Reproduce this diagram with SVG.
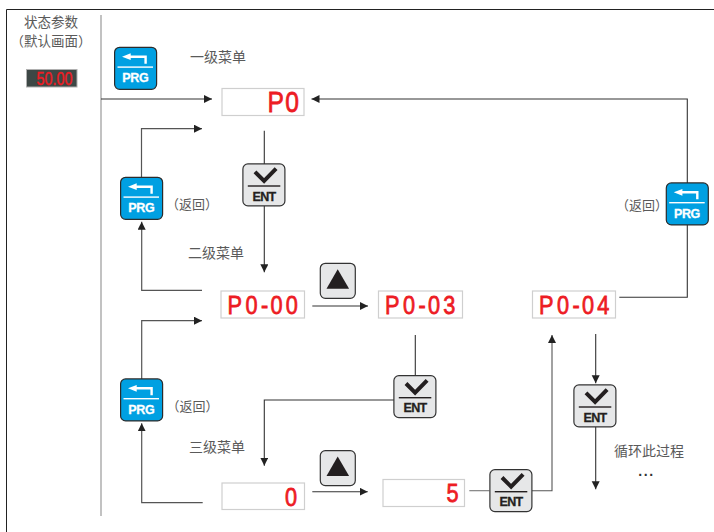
<svg xmlns="http://www.w3.org/2000/svg" width="714" height="532" viewBox="0 0 714 532">
<style>
.lbl{font-family:"Noto Sans CJK SC","Noto Sans",sans-serif;font-size:14px;fill:#5a5a5a}
.top{font-size:13.5px;text-anchor:middle}
.ret{font-size:13px}
.disp{fill:#fff;stroke:#cfcfcf;stroke-width:1.2}
.seg{font-family:"Liberation Sans",Arial,sans-serif;fill:#ed1c24;stroke:#ed1c24;stroke-width:.8;font-size:26.5px}
.con{fill:none;stroke:#333;stroke-width:1.1}
.ret-line{fill:none;stroke:#555;stroke-width:1.2}
.btn-p{fill:#00a0e2;stroke:#2b2b2b;stroke-width:1.2}
.btn-e{fill:#e6e7e8;stroke:#333;stroke-width:1.2}
.cap-p{font-family:"Liberation Sans",Arial,sans-serif;font-weight:bold;font-size:12.5px;fill:#fff;stroke:#fff;stroke-width:.3;text-anchor:middle;letter-spacing:-.4px}
.cap-e{font-family:"Liberation Sans",Arial,sans-serif;font-weight:bold;font-size:12.5px;fill:#231f20;stroke:#231f20;stroke-width:.3;text-anchor:middle;letter-spacing:-.6px}
</style>
<defs>
<marker id="ah" markerUnits="userSpaceOnUse" markerWidth="9" markerHeight="9" refX="8" refY="4" orient="auto"><path d="M0 0L8 4L0 8z" fill="#222"/></marker>
<g id="prg-face">
<rect class="btn-p" x=".6" y=".6" width="42" height="42" rx="5"/>
<path d="M8 10L16.7 6.6V8.8H32.8V17H30.4V11.2H16.7V13.4z" fill="#fff"/>
<rect x="3.5" y="19.7" width="35.5" height="1.4" fill="#fff"/>
</g>
<g id="ent-face">
<rect class="btn-e" x=".6" y=".6" width="42" height="42" rx="5"/>
<path d="M12.7 8.5L21.8 17.6L33.8 5.3" fill="none" stroke="#231f20" stroke-width="4"/>
<rect x="5.5" y="22" width="32.5" height="1.4" fill="#231f20"/>
</g>
<g id="up-face">
<rect class="btn-e" x=".6" y=".6" width="35" height="35" rx="5"/>
<path d="M18 6.6L29.4 26H6.8z" fill="#231f20"/>
</g>
</defs>

<g id="frame">
<path d="M6.5 532V9.5H714" fill="none" stroke="#222" stroke-width="1"/>
<path d="M101 15V516" fill="none" stroke="#bcbcbc" stroke-width="1.8"/>
</g>

<g id="connectors">
<path class="con" marker-end="url(#ah)" d="M101 99H212"/>
<path class="ret-line" marker-end="url(#ah)" d="M141.5 177V128.7H202"/>
<path class="con" d="M264.3 130.7V164"/>
<path class="con" marker-end="url(#ah)" d="M264.3 206V272.3"/>
<path class="ret-line" marker-end="url(#ah)" d="M202 290.3H141.7V221.7"/>
<path class="ret-line" marker-end="url(#ah)" d="M141.7 379V320.7H202"/>
<path class="con" marker-end="url(#ah)" d="M312.3 306H368"/>
<path class="con" d="M415.3 335V375"/>
<path class="con" marker-end="url(#ah)" d="M394 400H264.3V465.7"/>
<path class="con" marker-end="url(#ah)" d="M312.3 491.7H367.7"/>
<path class="ret-line" marker-end="url(#ah)" d="M202.7 502.7H141.7V423.3"/>
<path class="con" style="stroke:#777" d="M469.3 490.7H489.5"/>
<path class="con" style="stroke:#555" marker-end="url(#ah)" d="M532 490.7H552V335"/>
<path class="con" marker-end="url(#ah)" d="M619.3 297.3H687.3V99H311.5"/>
<path class="con" marker-end="url(#ah)" d="M595.7 334V383.3"/>
<path class="con" marker-end="url(#ah)" d="M595.7 427V489.3"/>
</g>

<g id="status"><text class="lbl top" x="51" y="26.6">状态参数</text><text class="lbl top" x="51" y="46.2">（默认画面）</text></g>
<g id="status-display"><rect x="26.5" y="69.5" width="50.5" height="17.5" fill="#3d4745" stroke="#b0b0b0"/><text x="36.5" y="85" font-family="Liberation Sans,sans-serif" font-size="18" fill="#f01c24" stroke="#f01c24" stroke-width=".4" textLength="36" lengthAdjust="spacingAndGlyphs">50.00</text></g>

<g id="label-l1"><text class="lbl" x="190" y="62">一级菜单</text></g>
<g id="label-l2"><text class="lbl" x="188" y="258">二级菜单</text></g>
<g id="label-l3"><text class="lbl" x="189" y="452">三级菜单</text></g>
<g id="label-ret1"><text class="lbl ret" x="166" y="209">（返回）</text></g>
<g id="label-ret2"><text class="lbl ret" x="616" y="210">（返回）</text></g>
<g id="label-ret3"><text class="lbl ret" x="166.5" y="411">（返回）</text></g>
<g id="label-loop"><text class="lbl" x="614" y="456">循环此过程</text><text x="646.5" y="476" text-anchor="middle" font-family="Liberation Sans,sans-serif" font-size="14" font-weight="bold" letter-spacing="1.6" fill="#333">...</text></g>

<g id="d-p0"><rect class="disp" x="222" y="88.5" width="82" height="27"/><text class="seg" style="font-size:30px" transform="translate(267.5 112) scale(.82 1)" x="0 21.5" y="0">P0</text></g>
<g id="d-p000"><rect class="disp" x="221" y="291" width="83.5" height="27"/><text class="seg" transform="translate(227.5 314) scale(.82 1)" x="0 22 41 52.5 71" y="0">P0-00</text></g>
<g id="d-p003"><rect class="disp" x="378.5" y="291" width="84" height="27"/><text class="seg" transform="translate(385 314) scale(.82 1)" x="0 22 41 52.5 71" y="0">P0-03</text></g>
<g id="d-p004"><rect class="disp" x="532.5" y="291" width="83" height="27"/><text class="seg" transform="translate(539 314) scale(.82 1)" x="0 22 41 52.5 71" y="0">P0-04</text></g>
<g id="d-0"><rect class="disp" x="222" y="483" width="82.5" height="26.5"/><text class="seg" transform="translate(285 505.5) scale(.82 1)" x="0" y="0">0</text></g>
<g id="d-5"><rect class="disp" x="383" y="479.5" width="81.5" height="27"/><text class="seg" transform="translate(446.5 502) scale(.82 1)" x="0" y="0">5</text></g>

<g id="prg-1" transform="translate(114 46.7)"><use href="#prg-face"/><text class="cap-p" x="21.3" y="35.5">PRG</text></g>
<g id="prg-2" transform="translate(120 176.7)"><use href="#prg-face"/><text class="cap-p" x="21.3" y="35.5">PRG</text></g>
<g id="prg-3" transform="translate(665.7 182.3)"><use href="#prg-face"/><text class="cap-p" x="21.3" y="35.5">PRG</text></g>
<g id="prg-4" transform="translate(120 378.3)"><use href="#prg-face"/><text class="cap-p" x="21.3" y="35.5">PRG</text></g>

<g id="ent-1" transform="translate(242.3 163.3)"><use href="#ent-face"/><text class="cap-e" x="21.7" y="37.3">ENT</text></g>
<g id="ent-2" transform="translate(393.3 375)"><use href="#ent-face"/><text class="cap-e" x="21.7" y="37.3">ENT</text></g>
<g id="ent-3" transform="translate(573.3 384.3)"><use href="#ent-face"/><text class="cap-e" x="21.7" y="37.3">ENT</text></g>
<g id="ent-4" transform="translate(489.3 469)"><use href="#ent-face"/><text class="cap-e" x="21.7" y="37.3">ENT</text></g>

<g id="up-1" transform="translate(319.7 262.7)"><use href="#up-face"/></g>
<g id="up-2" transform="translate(319.7 450)"><use href="#up-face"/></g>
</svg>
